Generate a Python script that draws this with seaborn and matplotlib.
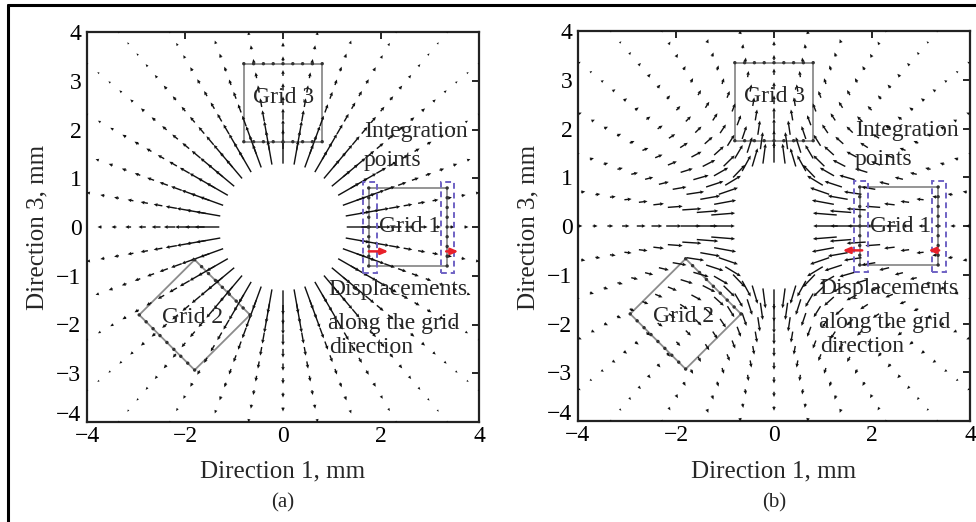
import numpy as np
import pandas as pd
import matplotlib
matplotlib.use("Agg")
import matplotlib.pyplot as plt
from matplotlib.lines import Line2D
from matplotlib.patches import Rectangle, Polygon
import matplotlib.transforms as mtrans
import seaborn as sns

# ---------------- data ----------------
spoke_angles_deg = [0, 10, 20, 30, 40, 50, 60, 70, 80, 90, 100, 110, 120, 130, 140, 150, 160, 170,
                    180, 190, 200, 210, 220, 230, 240, 250, 260, 270, 280, 290, 300, 310, 320, 330, 340, 350]
ring_radii = [1.30, 1.60, 1.90, 2.20, 2.50, 2.80, 3.10, 3.40, 3.70, 4.00, 4.30, 4.60, 4.90, 5.20, 5.50]

# panel (a): outward radial displacement per ring (mm)
a_radial = [0.50, 0.40, 0.30, 0.23, 0.18, 0.15, 0.12, 0.10, 0.085, 0.07, 0.06, 0.05, 0.045, 0.04, 0.035]

# panel (b): radial displacement along direction 1 (theta=0) and direction 3 (theta=90),
# and tangential displacement at 45 degrees, per ring (mm)
b_radial_dir1 = [-0.50, -0.45, -0.40, -0.31, -0.22, -0.18, -0.15, -0.12, -0.10, -0.09, -0.08, -0.07, -0.06, -0.05, -0.045]
b_radial_dir3 = [0.42, 0.36, 0.30, 0.23, 0.18, 0.15, 0.13, 0.11, 0.09, 0.08, 0.07, 0.06, 0.05, 0.045, 0.04]
b_tangent_45 = [0.36, 0.32, 0.27, 0.22, 0.18, 0.15, 0.12, 0.10, 0.09, 0.08, 0.07, 0.06, 0.05, 0.045, 0.04]

grid_texts = ["Grid 1", "Grid 2", "Grid 3"]
note_top = ["Integration", "points"]
note_bottom = ["Displacements", "along the grid", "direction"]
x_ticks = [-4, -2, 0, 2, 4]
y_ticks = [-4, -3, -2, -1, 0, 1, 2, 3, 4]
axis_xlabel = "Direction 1, mm"
axis_ylabel = "Direction 3, mm"
panel_tags = ["(a)", "(b)"]
red_arrows_a = [(1.75, -0.5, 0.40), (3.33, -0.5, 0.25)]   # x, y, dx
red_arrows_b = [(1.80, -0.5, -0.40), (3.37, -0.5, -0.22)]

# ---------------- build the node table ----------------
th = np.deg2rad(np.array(spoke_angles_deg, dtype=float))
R, TH = np.meshgrid(np.array(ring_radii), th, indexing="ij")
X = R * np.cos(TH)
Y = R * np.sin(TH)

ua_r = np.array(a_radial)[:, None] * np.ones_like(TH)
UA = ua_r * np.cos(TH)
VA = ua_r * np.sin(TH)

b1 = np.array(b_radial_dir1)[:, None]
b3 = np.array(b_radial_dir3)[:, None]
bt = np.array(b_tangent_45)[:, None]
ub_r = (b1 + b3) / 2 + (b1 - b3) / 2 * np.cos(2 * TH)
ub_t = bt * np.sin(2 * TH)
UB = ub_r * np.cos(TH) - ub_t * np.sin(TH)
VB = ub_r * np.sin(TH) + ub_t * np.cos(TH)

sns.set_theme(style="white")
plt.rcParams["font.family"] = ["Liberation Serif", "DejaVu Serif"]

fig = plt.figure(figsize=(9.76, 5.22), dpi=100)
fig.patch.set_facecolor("white")

W, H = 976.0, 522.0
ax_a = fig.add_axes([87 / W, 1 - 422 / H, 392 / W, 390 / H])
ax_b = fig.add_axes([578 / W, 1 - 421 / H, 392 / W, 390 / H])

grey = "#8c8c8c"
purple = "#6f62c4"

grid1_corners = np.array([[1.75, -0.8], [3.35, -0.8], [3.35, 0.8], [1.75, 0.8]])


def rotate(pts, deg):
    t = np.deg2rad(deg)
    Rm = np.array([[np.cos(t), -np.sin(t)], [np.sin(t), np.cos(t)]])
    return pts @ Rm.T


def decorate(ax, U, V, red_arrows, tag, px_left):
    ax.set_xlim(-4, 4)
    ax.set_ylim(-4, 4)
    ax.quiver(X.ravel(), Y.ravel(), U.ravel(), V.ravel(), angles="xy", scale_units="xy", scale=1,
              width=0.0036, headwidth=2.6, headlength=2.8, headaxislength=2.5, color="#111111",
              minlength=0.8, zorder=3)

    g1 = grid1_corners
    for g in (g1, rotate(g1, 225), rotate(g1, 90)):
        ax.add_patch(Polygon(g, closed=True, fill=False, edgecolor=grey, lw=1.3, zorder=2))

    # integration points along the grid edges
    ys = np.array([-0.8, -0.6, -0.4, -0.2, 0.0, 0.2, 0.4, 0.6, 0.8])
    e1 = np.column_stack([np.full_like(ys, 1.75), ys])
    e2 = np.column_stack([np.full_like(ys, 3.35), ys])
    pts = np.vstack([e1, e2, rotate(e1, 90), rotate(e2, 90), rotate(e1, 225), rotate(e2, 225)])
    df = pd.DataFrame({"x": pts[:, 0], "y": pts[:, 1]})
    sns.scatterplot(data=df, x="x", y="y", ax=ax, s=6, color="#333333", edgecolor="none", zorder=4,
                    legend=False)

    # dashed boxes round integration points
    for x0 in (1.63, 3.22):
        ax.add_patch(Rectangle((x0, -0.95), 0.28, 1.88, fill=False, edgecolor=purple, lw=1.4,
                               ls=(0, (3, 2)), zorder=5))
    for (x0, y0, dx) in red_arrows:
        ax.annotate("", xy=(x0 + dx, y0), xytext=(x0, y0),
                    arrowprops=dict(arrowstyle="-|>,head_length=0.35,head_width=0.15", color="#e8202a",
                                    lw=1.8, shrinkA=0, shrinkB=0), zorder=6)

    fs = 17
    ax.text(2.58, 0.0, grid_texts[0], ha="center", va="center", fontsize=fs, zorder=7)
    ax.text(-1.85, -1.85, grid_texts[1], ha="center", va="center", fontsize=fs, zorder=7)
    ax.text(0.02, 2.65, grid_texts[2], ha="center", va="center", fontsize=fs, zorder=7)
    ax.text(1.65, 1.96, note_top[0], ha="left", va="center", fontsize=fs, zorder=7)
    ax.text(1.65, 1.37, note_top[1], ha="left", va="center", fontsize=fs, zorder=7)
    ax.text(0.92, -1.29, note_bottom[0], ha="left", va="center", fontsize=fs, zorder=7)
    ax.text(0.92, -1.97, note_bottom[1], ha="left", va="center", fontsize=fs, zorder=7)
    ax.text(0.94, -2.47, note_bottom[2], ha="left", va="center", fontsize=fs, zorder=7)

    ax.set_xticks(x_ticks)
    ax.set_yticks(y_ticks)
    ax.set_xticklabels([f"{t}".replace("-", "\u2212") for t in x_ticks])
    ax.set_yticklabels([f"{t}".replace("-", "\u2212") for t in y_ticks])
    ax.tick_params(direction="in", length=5, width=1.2, top=True, right=True, labelsize=17,
                   colors="black")
    ax.tick_params(axis="x", pad=3)
    ax.tick_params(axis="y", pad=4)
    # lift the lowest y label a little, as in the reference
    lbl = ax.get_yticklabels()[0]
    lbl.set_transform(lbl.get_transform() + mtrans.ScaledTranslation(0, 9 / 100, fig.dpi_scale_trans))
    for s in ax.spines.values():
        s.set_visible(True)
        s.set_color("#222222")
        s.set_linewidth(1.6)
    ax.set_xlabel("")
    ax.set_ylabel("")
    ax.set_facecolor("white")

    cx = (px_left + 196) / W
    fig.text(cx, 1 - 471 / H, axis_xlabel, ha="center", va="center", fontsize=18)
    fig.text(cx, 1 - 503 / H, tag, ha="center", va="center", fontsize=15)
    fig.text((px_left - 50) / W, 1 - 227 / H, axis_ylabel, ha="center", va="center", fontsize=18,
             rotation=90)


decorate(ax_a, UA, VA, red_arrows_a, panel_tags[0], 87)
decorate(ax_b, UB, VB, red_arrows_b, panel_tags[1], 578)

# frame lines of the figure (top and left)
fig.add_artist(Line2D([8 / W, 8 / W], [0, 1 - 5 / H], color="black", lw=2.2, transform=fig.transFigure))
fig.add_artist(Line2D([8 / W, 1], [1 - 5 / H, 1 - 5 / H], color="black", lw=2.2, transform=fig.transFigure))

fig.savefig("out.png", dpi=100, facecolor="white")
